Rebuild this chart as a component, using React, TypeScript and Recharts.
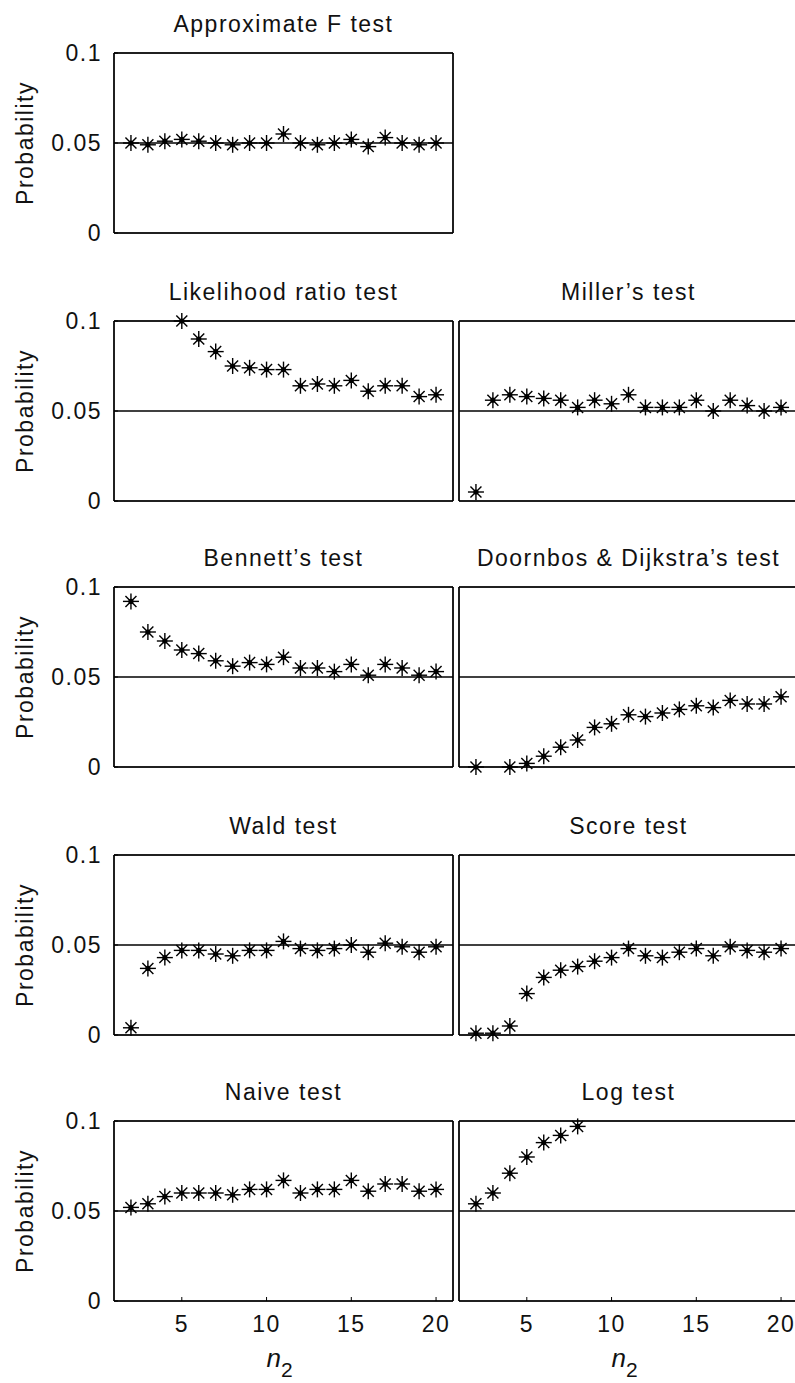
import React from 'react';
import { ScatterChart, Scatter, XAxis, YAxis, ReferenceLine } from 'recharts';

const nValues = [2, 3, 4, 5, 6, 7, 8, 9, 10, 11, 12, 13, 14, 15, 16, 17, 18, 19, 20];
const xTicks = [5, 10, 15, 20];
const yTicks = [0, 0.05, 0.1];
const xDomain: [number, number] = [1, 21];
const yDomain: [number, number] = [0, 0.1];
const nominalLevel = 0.05;

const approximateF = [0.050, 0.049, 0.051, 0.052, 0.051, 0.050, 0.049, 0.050, 0.050, 0.055, 0.050, 0.049, 0.050, 0.052, 0.048, 0.053, 0.050, 0.049, 0.050];
const likelihoodRatio = [null, null, null, 0.100, 0.090, 0.083, 0.075, 0.074, 0.073, 0.073, 0.064, 0.065, 0.064, 0.067, 0.061, 0.064, 0.064, 0.058, 0.059];
const miller = [0.005, 0.056, 0.059, 0.058, 0.057, 0.056, 0.052, 0.056, 0.054, 0.059, 0.052, 0.052, 0.052, 0.056, 0.050, 0.056, 0.053, 0.050, 0.052];
const bennett = [0.092, 0.075, 0.070, 0.065, 0.063, 0.059, 0.056, 0.058, 0.057, 0.061, 0.055, 0.055, 0.053, 0.057, 0.051, 0.057, 0.055, 0.051, 0.053];
const doornbosDijkstra = [0.000, null, 0.000, 0.002, 0.006, 0.011, 0.015, 0.022, 0.024, 0.029, 0.028, 0.030, 0.032, 0.034, 0.033, 0.037, 0.035, 0.035, 0.039];
const wald = [0.004, 0.037, 0.043, 0.047, 0.047, 0.045, 0.044, 0.047, 0.047, 0.052, 0.048, 0.047, 0.048, 0.050, 0.046, 0.051, 0.049, 0.046, 0.049];
const score = [0.001, 0.001, 0.005, 0.023, 0.032, 0.036, 0.038, 0.041, 0.043, 0.048, 0.044, 0.043, 0.046, 0.048, 0.044, 0.049, 0.047, 0.046, 0.048];
const naive = [0.052, 0.054, 0.058, 0.060, 0.060, 0.060, 0.059, 0.062, 0.062, 0.067, 0.060, 0.062, 0.062, 0.067, 0.061, 0.065, 0.065, 0.061, 0.062];
const logTest = [0.054, 0.060, 0.071, 0.080, 0.088, 0.092, 0.097, null, null, null, null, null, null, null, null, null, null, null, null];

type Panel = { title: string; values: (number | null)[]; row: number; col: number };

const panels: Panel[] = [
  { title: 'Approximate F test', values: approximateF, row: 0, col: 0 },
  { title: 'Likelihood ratio test', values: likelihoodRatio, row: 1, col: 0 },
  { title: 'Miller\u2019s test', values: miller, row: 1, col: 1 },
  { title: 'Bennett\u2019s test', values: bennett, row: 2, col: 0 },
  { title: 'Doornbos & Dijkstra\u2019s test', values: doornbosDijkstra, row: 2, col: 1 },
  { title: 'Wald test', values: wald, row: 3, col: 0 },
  { title: 'Score test', values: score, row: 3, col: 1 },
  { title: 'Naive test', values: naive, row: 4, col: 0 },
  { title: 'Log test', values: logTest, row: 4, col: 1 },
];

const PLOT_W = 339;
const PLOT_H = 180;
const AXIS_W = 114;
const PAD = 20;
const ROW_TOPS = [53, 321, 587, 855, 1121];
const COL_LEFTS = [0, 345];
const FONT = '"Liberation Sans", Arial, sans-serif';
const tickStyle = { fontSize: 23, fontFamily: FONT, letterSpacing: 1.5, fill: '#111' };

const Asterisk = (props: any) => {
  const { cx, cy } = props;
  if (cx == null || cy == null || isNaN(cx) || isNaN(cy)) return null;
  const a = 8;
  const d = 5.5;
  return (
    <g stroke="#000" strokeWidth={1.4}>
      <line x1={cx - a} y1={cy} x2={cx + a} y2={cy} />
      <line x1={cx} y1={cy - a} x2={cx} y2={cy + a} />
      <line x1={cx - d} y1={cy - d} x2={cx + d} y2={cy + d} />
      <line x1={cx - d} y1={cy + d} x2={cx + d} y2={cy - d} />
      <circle cx={cx} cy={cy} r={2.6} fill="#000" stroke="none" />
    </g>
  );
};

function PanelChart({ panel }: { panel: Panel }) {
  const data = nValues
    .map((n, i) => ({ n, p: panel.values[i] }))
    .filter((d) => d.p !== null && d.p !== undefined);
  const isBottom = panel.row === 4;
  const showY = panel.col === 0;
  const xAxisH = isBottom ? 45 : 1;
  const height = PAD + PLOT_H + xAxisH + PAD;
  const width = AXIS_W + PLOT_W + 1 + PAD;
  return (
    <div style={{ position: 'absolute', left: COL_LEFTS[panel.col], top: ROW_TOPS[panel.row] - PAD }}>
      <ScatterChart width={width} height={height} margin={{ top: PAD - 1, right: PAD, bottom: PAD, left: 0 }}>
        <XAxis
          dataKey="n"
          type="number"
          domain={xDomain}
          ticks={xTicks}
          interval={0}
          tickSize={-4}
          tickMargin={19}
          tick={isBottom ? tickStyle : false}
          height={xAxisH}
          stroke="#000"
          axisLine={{ stroke: '#000' }}
          tickLine={{ stroke: '#000' }}
        />
        <XAxis
          xAxisId="top"
          orientation="top"
          type="number"
          domain={xDomain}
          ticks={xTicks}
          interval={0}
          tickSize={-4}
          tick={false}
          height={1}
          stroke="#000"
          axisLine={{ stroke: '#000' }}
          tickLine={{ stroke: '#000' }}
        />
        <YAxis
          type="number"
          domain={yDomain}
          ticks={yTicks}
          interval={0}
          tickSize={-4}
          tickMargin={16}
          tick={showY ? tickStyle : false}
          width={AXIS_W}
          stroke="#000"
          axisLine={{ stroke: '#000' }}
          tickLine={{ stroke: '#000' }}
        />
        <YAxis
          yAxisId="right"
          orientation="right"
          type="number"
          domain={yDomain}
          ticks={yTicks}
          interval={0}
          tickSize={-4}
          tick={false}
          width={1}
          stroke="#000"
          axisLine={{ stroke: '#000' }}
          tickLine={{ stroke: '#000' }}
        />
        <ReferenceLine y={yDomain[0]} stroke="#000" strokeWidth={1.5} />
        <ReferenceLine y={yDomain[1]} stroke="#000" strokeWidth={1.5} />
        <ReferenceLine x={xDomain[0]} stroke="#000" strokeWidth={1.5} />
        <ReferenceLine x={xDomain[1]} stroke="#000" strokeWidth={1.5} />
        <ReferenceLine y={nominalLevel} stroke="#000" strokeWidth={1.5} />
        <Scatter data={data} dataKey="p" shape={Asterisk} isAnimationActive={false} />
      </ScatterChart>
    </div>
  );
}

export default function App() {
  const plotCenterX = (col: number) => COL_LEFTS[col] + AXIS_W + PLOT_W / 2;
  return (
    <div
      style={{
        position: 'absolute',
        left: 0,
        top: 0,
        width: 795,
        height: 1383,
        overflow: 'hidden',
        background: '#fff',
      }}
    >
      {panels.map((p) => (
        <PanelChart key={p.title} panel={p} />
      ))}
      <svg
        width={795}
        height={1383}
        style={{ position: 'absolute', left: 0, top: 0, pointerEvents: 'none' }}
      >
        {panels.map((p) => (
          <text
            key={'t' + p.title}
            x={plotCenterX(p.col)}
            y={ROW_TOPS[p.row] - 21}
            textAnchor="middle"
            fontFamily={FONT}
            fontSize={23}
            letterSpacing={1.5}
            fill="#111"
          >
            {p.title}
          </text>
        ))}
        {ROW_TOPS.map((top, i) => (
          <text
            key={'y' + i}
            x={33}
            y={top + PLOT_H / 2}
            transform={`rotate(-90, 33, ${top + PLOT_H / 2})`}
            textAnchor="middle"
            fontFamily={FONT}
            fontSize={23}
            letterSpacing={1.5}
            fill="#111"
          >
            Probability
          </text>
        ))}
        {[0, 1].map((col) => (
          <text
            key={'n' + col}
            x={plotCenterX(col) - 4}
            y={1367}
            textAnchor="middle"
            fontFamily={FONT}
            fontSize={26}
            fill="#111"
          >
            <tspan fontStyle="italic">n</tspan>
            <tspan fontSize={21} dy={10}>2</tspan>
          </text>
        ))}
      </svg>
    </div>
  );
}
